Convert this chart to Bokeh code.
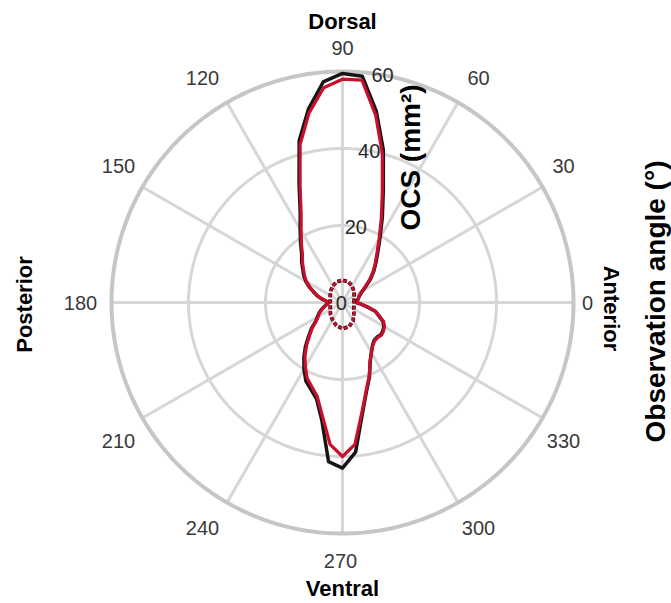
import numpy as np
from bokeh.plotting import figure
from bokeh.models import Range1d
from bokeh.core.properties import value
from bokeh.embed import file_html
from bokeh.resources import INLINE

# Observation angles (degrees) and optical cross-section (mm^2)
angles = list(range(0, 360, 5))
ocs_black = [3.5, 3.8, 4.0, 4.3, 4.6, 5.2, 6.0, 7.5, 9.5, 11.5, 13.5, 16.0,
             19.5, 24.5, 31.0, 41.0, 50.5, 59.0, 59.5, 57.5, 51.0, 43.5, 33.0, 26.0,
             22.0, 19.0, 16.5, 15.0, 13.5, 12.3, 11.0, 9.5, 8.0, 6.8, 5.5, 4.3,
             3.5, 4.0, 4.5, 5.2, 6.0, 6.8, 7.5, 8.5, 10.5, 12.5, 15.0, 17.5,
             20.0, 22.5, 24.0, 26.0, 31.0, 41.5, 43.0, 39.0, 29.5, 24.0, 20.5, 17.0,
             15.0, 13.6, 12.8, 12.7, 13.0, 12.8, 12.4, 11.6, 10.0, 8.8, 6.5, 4.8]
ocs_red = [3.6, 3.9, 4.1, 4.3, 4.6, 5.1, 5.8, 7.2, 9.2, 11.2, 13.2, 15.6,
           19.0, 23.8, 30.2, 40.0, 49.5, 58.0, 58.0, 56.0, 50.0, 42.5, 32.2, 25.4,
           21.5, 18.6, 16.2, 14.7, 13.2, 12.0, 10.8, 9.3, 7.9, 6.7, 5.4, 4.2,
           3.5, 3.9, 4.4, 5.0, 5.8, 6.6, 7.3, 8.3, 10.2, 12.1, 14.5, 17.0,
           19.3, 21.7, 23.3, 25.3, 30.0, 37.0, 40.0, 37.0, 29.0, 23.7, 20.3, 16.9,
           15.0, 13.7, 13.0, 12.9, 13.2, 13.0, 12.6, 11.8, 10.2, 8.9, 6.6, 4.8]

angles_small = list(range(0, 360, 15))
ocs_small = [3.0, 3.1, 3.5, 4.2, 5.0, 5.6, 5.8, 5.6, 5.0, 4.3, 3.7, 3.3,
             3.2, 3.3, 3.7, 4.4, 5.2, 6.2, 6.8, 6.5, 5.5, 4.2, 3.4, 3.1]

r_ticks = [0, 20, 40, 60]
r_tick_labels = ["0", "20", "40", "60"]
theta_ticks = list(range(0, 360, 30))
theta_tick_labels = [str(t) for t in theta_ticks]

R_MAX = 60
PX = 3.85  # pixels per mm^2 on screen
W, H = 671, 603
CX, CY = 342, 302  # pole position in pixels

# offset (px) from the pole to the centre of each angle label
theta_label_dx = [245, 221, 136, 0, -140, -224, -262, -224, -140, -2, 136, 221]
theta_label_dy = [0, 137, 225, 255, 225, 137, 0, -138, -225, -258, -225, -138]


def polar_xy(theta_deg, r, closed=True):
    t = np.radians(np.asarray(theta_deg, dtype=float))
    r = np.asarray(r, dtype=float)
    x, y = r * np.cos(t), r * np.sin(t)
    if closed:
        x, y = np.append(x, x[0]), np.append(y, y[0])
    return x, y


def px(xp, yp):
    return (xp - CX) / PX, (CY - yp) / PX


p = figure(width=W, height=H, output_backend="svg", toolbar_location=None,
           x_range=Range1d(-CX / PX, (W - CX) / PX),
           y_range=Range1d(-(H - CY) / PX, CY / PX),
           min_border=0)
p.axis.visible = False
p.grid.visible = False
p.outline_line_color = None
p.background_fill_color = "white"
p.border_fill_color = "white"

FONT = value("Liberation Sans")

# spokes
tt = np.radians(theta_ticks)
p.segment(x0=0, y0=0, x1=R_MAX * np.cos(tt), y1=R_MAX * np.sin(tt),
          line_color="#d6d6d6", line_width=3)
# rings
full = np.linspace(0, 360, 361)
for rv in r_ticks[1:-1]:
    x, y = polar_xy(full, np.full_like(full, rv), closed=False)
    p.line(x, y, line_color="#d6d6d6", line_width=3)
x, y = polar_xy(full, np.full_like(full, R_MAX), closed=False)
p.line(x, y, line_color="#c6c6c6", line_width=4)

# curves
x, y = polar_xy(angles, ocs_black)
p.line(x, y, line_color="#151515", line_width=3.5, line_join="round")
x, y = polar_xy(angles, ocs_red)
p.line(x, y, line_color="#c8102e", line_width=3.2, line_join="round")
x, y = polar_xy(angles_small, ocs_small)
p.line(x, y, line_color="#3a0a0a", line_width=3.8, line_dash="4 2")
p.line(x, y, line_color="#c8102e", line_width=2.4, line_dash="4 2")

# angular tick labels
p.text(x=[d / PX for d in theta_label_dx], y=[d / PX for d in theta_label_dy],
       text=theta_tick_labels, text_font=FONT, text_font_size="20px",
       text_color="#3a3a3a", text_align="center", text_baseline="middle")

# radial tick labels
ra = np.radians(80)
for rv, lab in zip(r_ticks, r_tick_labels):
    p.text(x=[rv * np.cos(ra) if rv else -0.3], y=[rv * np.sin(ra) if rv else 0],
           text=[lab], text_font=FONT, text_font_size="20px",
           text_color="#2a2a2a", text_align="center", text_baseline="middle")


# direction names and axis titles
def label(xp, yp, txt, size, angle=0.0):
    x0, y0 = px(xp, yp)
    p.text(x=[x0], y=[y0], text=[txt], text_font=FONT, text_font_size=size,
           text_font_style="bold", text_color="black", angle=angle,
           text_align="center", text_baseline="middle")


label(342, 21, "Dorsal", "22px")
label(342, 588, "Ventral", "22px")
label(24, 304, "Posterior", "22px", np.pi / 2)
label(611, 308, "Anterior", "22px", -np.pi / 2)
label(410, 157, "OCS (mm²)", "28px", np.pi / 2)
label(655, 301, "Observation angle (°)", "28px", np.pi / 2)

open("out.html", "w").write(file_html(p, INLINE))
